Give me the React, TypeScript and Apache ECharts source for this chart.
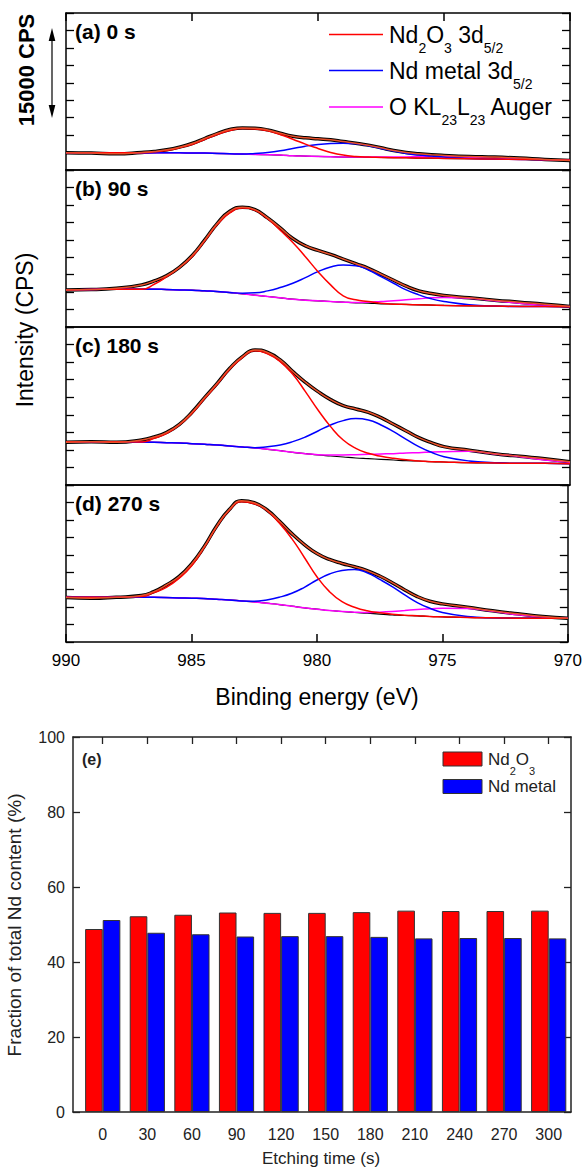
import { useEffect, useRef } from 'react';
import * as echarts from 'echarts';

// ---------- XPS Nd 3d5/2 spectra (binding energy, eV) ----------
const ENERGY = [
  990, 989, 988, 987, 986.5, 986, 985.5, 985, 984.5, 984, 983.5, 983, 982.5, 982, 981.5, 981,
  980.5, 980, 979.5, 979, 978.5, 978, 977.5, 977, 976.5, 976, 975.5, 975, 974, 973, 972, 971, 970,
];

// (a) 0 s — intensities in CPS above the panel floor
const FIT_0S = [2964, 2907, 2793, 3021, 3192, 3477, 3933, 4560, 5415, 6270, 6954, 7239, 7182, 6897, 6327, 5814, 5529, 5358, 5187, 4902, 4617, 4275, 3819, 3363, 3021, 2793, 2622, 2508, 2337, 2223, 2052, 1824, 1653];
const BG_0S = [2964, 2964, 2964, 2964, 2964, 2964, 2964, 2907, 2907, 2850, 2793, 2736, 2679, 2622, 2565, 2451, 2394, 2337, 2280, 2223, 2223, 2166, 2166, 2109, 2109, 2052, 2052, 1995, 1938, 1881, 1824, 1767, 1710];
const OX_0S = [2964, 2964, 2964, 2964, 3135, 3363, 3819, 4389, 5244, 6099, 6783, 7125, 7068, 6726, 6099, 5301, 4446, 3705, 3021, 2565, 2337, 2223, 2166, 2109, 2109, 2052, 2052, 1995, 1938, 1881, 1824, 1767, 1710];
const MET_0S = [2964, 2964, 2964, 2964, 2964, 2964, 2964, 2907, 2907, 2850, 2793, 2736, 2850, 3021, 3306, 3705, 4104, 4389, 4560, 4617, 4503, 4161, 3705, 3249, 2850, 2565, 2394, 2223, 1995, 1881, 1824, 1767, 1710];
const AUG_0S = [2964, 2964, 2964, 2964, 2964, 2964, 2964, 2907, 2907, 2850, 2793, 2736, 2679, 2622, 2565, 2451, 2394, 2337, 2280, 2223, 2250, 2250, 2250, 2250, 2250, 2280, 2280, 2280, 2166, 1995, 1881, 1767, 1710];

// (b) 90 s
const FIT_90S = [6384, 6441, 6669, 7239, 7923, 8835, 10260, 12255, 14934, 17784, 19893, 20580, 20180, 18753, 17043, 15219, 13965, 13167, 12483, 11685, 10887, 10089, 9063, 8037, 7011, 6213, 5757, 5415, 5016, 4617, 4275, 3933, 3534];
const BG_90S = [6384, 6441, 6498, 6498, 6498, 6441, 6384, 6327, 6213, 6099, 5928, 5700, 5472, 5244, 5016, 4788, 4617, 4503, 4389, 4275, 4161, 4104, 3990, 3933, 3876, 3819, 3762, 3705, 3648, 3591, 3534, 3534, 3477];
const OX_90S = [6384, 6441, 6498, 6498, 7353, 8664, 10203, 12084, 14763, 17613, 19608, 20460, 20060, 18639, 16644, 14535, 12084, 9519, 7239, 5358, 4674, 4389, 4104, 3933, 3876, 3819, 3762, 3705, 3648, 3591, 3534, 3534, 3477];
const MET_90S = [6384, 6441, 6498, 6498, 6498, 6441, 6384, 6327, 6213, 6099, 5928, 5814, 5871, 6213, 6783, 7524, 8493, 9519, 10317, 10659, 10545, 9804, 8664, 7524, 6384, 5529, 4845, 4389, 3819, 3591, 3534, 3534, 3477];
const AUG_90S = [6384, 6441, 6498, 6498, 6498, 6441, 6384, 6327, 6213, 6099, 5928, 5700, 5472, 5244, 5016, 4788, 4617, 4503, 4389, 4275, 4218, 4275, 4389, 4503, 4674, 4845, 5016, 5073, 4960, 4500, 4104, 3705, 3534];

// (c) 180 s
const FIT_180S = [7296, 7410, 7296, 7695, 8208, 9006, 10374, 12426, 14934, 17385, 19950, 21945, 23080, 22650, 21375, 19380, 17556, 15960, 14592, 13566, 12996, 12426, 11514, 10374, 9234, 8094, 7239, 6555, 5928, 5358, 4902, 4503, 3990];
const BG_180S = [7410, 7410, 7410, 7353, 7296, 7239, 7182, 7068, 6954, 6840, 6669, 6498, 6327, 6099, 5871, 5586, 5358, 5130, 4959, 4788, 4617, 4503, 4389, 4275, 4161, 4104, 3990, 3933, 3819, 3762, 3705, 3705, 3648];
const OX_180S = [7410, 7410, 7410, 7353, 7980, 8835, 10260, 12255, 14763, 17214, 19779, 21774, 22960, 22420, 21090, 18924, 15960, 12825, 9975, 7695, 6270, 5415, 4902, 4560, 4332, 4104, 3990, 3933, 3819, 3762, 3705, 3705, 3648];
const MET_180S = [7410, 7410, 7410, 7353, 7296, 7239, 7182, 7068, 6954, 6840, 6669, 6500, 6384, 6555, 6840, 7410, 8208, 9234, 10260, 11001, 11343, 11115, 10260, 9120, 7809, 6555, 5586, 4845, 4104, 3819, 3705, 3705, 3648];
const AUG_180S = [7410, 7410, 7410, 7353, 7296, 7239, 7182, 7068, 6954, 6840, 6669, 6498, 6327, 6099, 5871, 5586, 5358, 5187, 5130, 5130, 5187, 5244, 5301, 5358, 5472, 5529, 5643, 5700, 5757, 5300, 4845, 4275, 3876];

// (d) 270 s
const FIT_270S = [7638, 7524, 7695, 7980, 8664, 9804, 11229, 13395, 16359, 19893, 22743, 24300, 23950, 22743, 20805, 18639, 16758, 15219, 14193, 13509, 12939, 12255, 11343, 10203, 8949, 7809, 7011, 6555, 5985, 5358, 4845, 4389, 4104];
const BG_270S = [7695, 7695, 7695, 7695, 7695, 7638, 7581, 7524, 7467, 7353, 7239, 7068, 6897, 6669, 6441, 6156, 5871, 5643, 5415, 5244, 5073, 4959, 4788, 4674, 4560, 4503, 4389, 4332, 4218, 4161, 4104, 4104, 4104];
const OX_270S = [7695, 7695, 7695, 7809, 8493, 9405, 10944, 13053, 16188, 19779, 22629, 24130, 23780, 22629, 20463, 17784, 14535, 11229, 8664, 6954, 5985, 5358, 5016, 4788, 4617, 4503, 4389, 4332, 4218, 4161, 4104, 4104, 4104];
const MET_270S = [7695, 7695, 7695, 7695, 7695, 7638, 7581, 7524, 7467, 7353, 7239, 7068, 7011, 7239, 7695, 8379, 9405, 10659, 11685, 12312, 12483, 11913, 10773, 9519, 8094, 6783, 5814, 5073, 4389, 4161, 4104, 4104, 4104];
const AUG_270S = [7695, 7695, 7695, 7695, 7695, 7638, 7581, 7524, 7467, 7353, 7239, 7068, 6897, 6669, 6441, 6156, 5871, 5643, 5415, 5244, 5130, 5073, 5130, 5244, 5415, 5586, 5700, 5814, 5757, 5301, 4674, 4275, 4104];

const PANEL_LABELS = ['(a) 0 s', '(b) 90 s', '(c) 180 s', '(d) 270 s'];
const ENERGY_TICKS = [990, 985, 980, 975, 970];

// ---------- (e) fraction of total Nd content ----------
const ETCH_TIMES = [0, 30, 60, 90, 120, 150, 180, 210, 240, 270, 300];
const ND2O3_FRACTION = [48.8, 52.2, 52.6, 53.2, 53.1, 53.1, 53.3, 53.7, 53.6, 53.6, 53.7];
const ND_METAL_FRACTION = [51.2, 47.8, 47.4, 46.8, 46.9, 46.9, 46.7, 46.3, 46.4, 46.4, 46.3];

const FONT = '"Liberation Sans", Arial, Helvetica, sans-serif';

const PANELS = [
  { fit: FIT_0S, bg: BG_0S, ox: OX_0S, met: MET_0S, aug: AUG_0S },
  { fit: FIT_90S, bg: BG_90S, ox: OX_90S, met: MET_90S, aug: AUG_90S },
  { fit: FIT_180S, bg: BG_180S, ox: OX_180S, met: MET_180S, aug: AUG_180S },
  { fit: FIT_270S, bg: BG_270S, ox: OX_270S, met: MET_270S, aug: AUG_270S },
];

const PANEL_TOP = [13, 170, 327, 485];
const PANEL_H = [157, 157, 158, 157];

function buildOption() {
  const pairs = (ys: number[]) => ENERGY.map((e, i) => [e, ys[i]]);
  const axisLine = { show: true, onZero: false, lineStyle: { color: '#000', width: 1.5 } };

  const grid: any[] = [];
  const xAxis: any[] = [];
  const yAxis: any[] = [];
  const series: any[] = [];

  PANELS.forEach((p, i) => {
    grid.push({ left: 66, right: 15, top: PANEL_TOP[i], height: PANEL_H[i] });
    const baseX = {
      gridIndex: i,
      type: 'value',
      min: 970,
      max: 990,
      interval: 5,
      inverse: true,
      axisLine,
      splitLine: { show: false },
    };
    xAxis.push({
      ...baseX,
      position: 'bottom',
      axisTick: { show: i === 3, inside: true, length: 8, lineStyle: { color: '#000', width: 1.5 } },
      axisLabel: {
        show: i === 3,
        customValues: ENERGY_TICKS,
        fontSize: 17,
        fontFamily: FONT,
        color: '#000',
        margin: 10,
      },
    });
    xAxis.push({
      ...baseX,
      position: 'top',
      axisTick: { show: i === 0, inside: true, length: 8, lineStyle: { color: '#000', width: 1.5 } },
      axisLabel: { show: false },
    });
    const baseY = {
      gridIndex: i,
      type: 'value',
      min: 0,
      max: 27000,
      interval: 3000,
      axisLine,
      axisTick: { show: true, inside: true, length: 8, lineStyle: { color: '#000', width: 1.3 } },
      axisLabel: { show: false },
      splitLine: { show: false },
    };
    yAxis.push({ ...baseY, position: 'left' });
    yAxis.push({ ...baseY, position: 'right' });

    const common = {
      type: 'line',
      xAxisIndex: 2 * i,
      yAxisIndex: 2 * i,
      smooth: 0.5,
      symbol: 'none',
      silent: true,
    };
    series.push({ ...common, name: 'Measured', data: pairs(p.fit), lineStyle: { color: '#000', width: 3.5 } });
    series.push({ ...common, name: 'Background', data: pairs(p.bg), lineStyle: { color: '#000', width: 1.2 } });
    series.push({ ...common, name: 'O KL23L23 Auger', data: pairs(p.aug), lineStyle: { color: '#ff00ff', width: 1.5 } });
    series.push({ ...common, name: 'Nd metal 3d5/2', data: pairs(p.met), lineStyle: { color: '#0000ff', width: 1.5 } });
    series.push({ ...common, name: 'Nd2O3 3d5/2', data: pairs(p.ox), lineStyle: { color: '#ff0000', width: 1.5 } });
    series.push({ ...common, name: 'Envelope', data: pairs(p.fit), lineStyle: { color: '#e8502a', width: 1.5 } });
  });

  // bar grid
  grid.push({ left: 73, right: 14, top: 737, bottom: 57 });
  const barAxisLine = { show: true, onZero: false, lineStyle: { color: '#222', width: 1.5 } };
  xAxis.push({
    gridIndex: 4,
    type: 'value',
    position: 'bottom',
    min: -20,
    max: 315,
    axisLine: barAxisLine,
    axisTick: { show: false },
    axisLabel: { customValues: ETCH_TIMES, fontSize: 16, fontFamily: FONT, color: '#222', margin: 14 },
    splitLine: { show: false },
  });
  xAxis.push({
    gridIndex: 4,
    type: 'value',
    position: 'top',
    min: -20,
    max: 315,
    axisLine: barAxisLine,
    axisTick: { show: true, inside: true, length: 7, customValues: ETCH_TIMES, lineStyle: { color: '#222', width: 1.3 } },
    axisLabel: { show: false },
    splitLine: { show: false },
  });
  const barY = {
    gridIndex: 4,
    type: 'value',
    min: 0,
    max: 100,
    interval: 20,
    axisLine: barAxisLine,
    axisTick: { show: true, inside: true, length: 7, lineStyle: { color: '#222', width: 1.3 } },
    splitLine: { show: false },
  };
  yAxis.push({ ...barY, position: 'left', axisLabel: { fontSize: 16, fontFamily: FONT, color: '#222', margin: 8 } });
  yAxis.push({ ...barY, position: 'right', axisLabel: { show: false } });

  series.push({
    type: 'bar',
    name: 'Nd2O3',
    xAxisIndex: 8,
    yAxisIndex: 8,
    barWidth: 17.6,
    barGap: '0%',
    data: ETCH_TIMES.map((t, i) => [t, ND2O3_FRACTION[i]]),
    itemStyle: { color: '#ff0000', borderColor: '#333', borderWidth: 1 },
  });
  series.push({
    type: 'bar',
    name: 'Nd metal',
    xAxisIndex: 8,
    yAxisIndex: 8,
    barWidth: 17.6,
    barGap: '0%',
    data: ETCH_TIMES.map((t, i) => [t, ND_METAL_FRACTION[i]]),
    itemStyle: { color: '#0000ff', borderColor: '#333', borderWidth: 1 },
  });

  const bigRich = {
    n: { fontSize: 23, fontFamily: FONT, fill: '#000', color: '#000', lineHeight: 40 },
    s: { fontSize: 14, fontFamily: FONT, fill: '#000', color: '#000', lineHeight: 14, verticalAlign: 'bottom' },
  };
  const smallRich = {
    n: { fontSize: 17, fontFamily: FONT, fill: '#222', color: '#222', lineHeight: 34 },
    s: { fontSize: 11, fontFamily: FONT, fill: '#222', color: '#222', lineHeight: 11, verticalAlign: 'bottom' },
  };

  const legendRows = [
    { color: '#ff0000', y: 34.5, text: '{n|Nd}{s|2}{n|O}{s|3}{n| 3d}{s|5/2}' },
    { color: '#0000ff', y: 70.5, text: '{n|Nd metal 3d}{s|5/2}' },
    { color: '#ff00ff', y: 107, text: '{n|O KL}{s|23}{n|L}{s|23}{n| Auger}' },
  ];

  const graphic: any[] = [];
  legendRows.forEach((r) => {
    graphic.push({ type: 'line', shape: { x1: 329, y1: r.y, x2: 383, y2: r.y }, style: { stroke: r.color, lineWidth: 1.5 } });
    graphic.push({
      type: 'text',
      x: 389,
      y: r.y,
      style: { text: r.text, rich: bigRich, align: 'left', verticalAlign: 'middle' },
    });
  });

  PANEL_LABELS.forEach((t, i) => {
    graphic.push({
      type: 'text',
      x: 75,
      y: PANEL_TOP[i] + 18,
      style: { text: t, fontSize: 21, fontWeight: 'bold', fontFamily: FONT, fill: '#000', align: 'left', verticalAlign: 'middle' },
    });
  });

  // scale bar
  graphic.push({ type: 'line', shape: { x1: 52, y1: 38, x2: 52, y2: 108 }, style: { stroke: '#000', lineWidth: 1.2 } });
  graphic.push({ type: 'polygon', shape: { points: [[52, 28], [48.7, 41], [55.3, 41]] }, style: { fill: '#000' } });
  graphic.push({ type: 'polygon', shape: { points: [[52, 118], [48.7, 105], [55.3, 105]] }, style: { fill: '#000' } });
  graphic.push({
    type: 'text',
    x: 26,
    y: 70,
    rotation: Math.PI / 2,
    style: { text: '15000 CPS', fontSize: 22, fontWeight: 'bold', fontFamily: FONT, fill: '#000', align: 'center', verticalAlign: 'middle' },
  });
  graphic.push({
    type: 'text',
    x: 25,
    y: 330,
    rotation: Math.PI / 2,
    style: { text: 'Intensity (CPS)', fontSize: 23, fontFamily: FONT, fill: '#000', align: 'center', verticalAlign: 'middle' },
  });
  graphic.push({
    type: 'text',
    x: 317,
    y: 697,
    style: { text: 'Binding energy (eV)', fontSize: 23, fontFamily: FONT, fill: '#000', align: 'center', verticalAlign: 'middle' },
  });

  // bar panel texts
  graphic.push({
    type: 'text',
    x: 82,
    y: 759,
    style: { text: '(e)', fontSize: 16, fontWeight: 'bold', fontFamily: FONT, fill: '#222', align: 'left', verticalAlign: 'middle' },
  });
  graphic.push({ type: 'rect', shape: { x: 443, y: 752, width: 39, height: 14 }, style: { fill: '#ff0000', stroke: '#333', lineWidth: 1 } });
  graphic.push({ type: 'text', x: 488, y: 759, style: { text: '{n|Nd}{s|2}{n|O}{s|3}', rich: smallRich, align: 'left', verticalAlign: 'middle' } });
  graphic.push({ type: 'rect', shape: { x: 443, y: 779.5, width: 39, height: 14 }, style: { fill: '#0000ff', stroke: '#333', lineWidth: 1 } });
  graphic.push({ type: 'text', x: 488, y: 786.5, style: { text: '{n|Nd metal}', rich: smallRich, align: 'left', verticalAlign: 'middle' } });
  graphic.push({
    type: 'text',
    x: 14,
    y: 925,
    rotation: Math.PI / 2,
    style: { text: 'Fraction of total Nd content (%)', fontSize: 19, fontFamily: FONT, fill: '#222', align: 'center', verticalAlign: 'middle' },
  });
  graphic.push({
    type: 'text',
    x: 321,
    y: 1158,
    style: { text: 'Etching time (s)', fontSize: 17, fontFamily: FONT, fill: '#222', align: 'center', verticalAlign: 'middle' },
  });

  return {
    animation: false,
    backgroundColor: '#fff',
    grid,
    xAxis,
    yAxis,
    series,
    graphic,
  };
}

export default function App() {
  const ref = useRef<HTMLDivElement>(null);
  useEffect(() => {
    if (!ref.current) return;
    const chart = echarts.init(ref.current, null, { renderer: 'svg' });
    chart.setOption(buildOption() as any);
    return () => chart.dispose();
  }, []);
  return (
    <div
      ref={ref}
      style={{ position: 'absolute', left: 0, top: 0, width: 585, height: 1169, background: '#fff' }}
    />
  );
}
